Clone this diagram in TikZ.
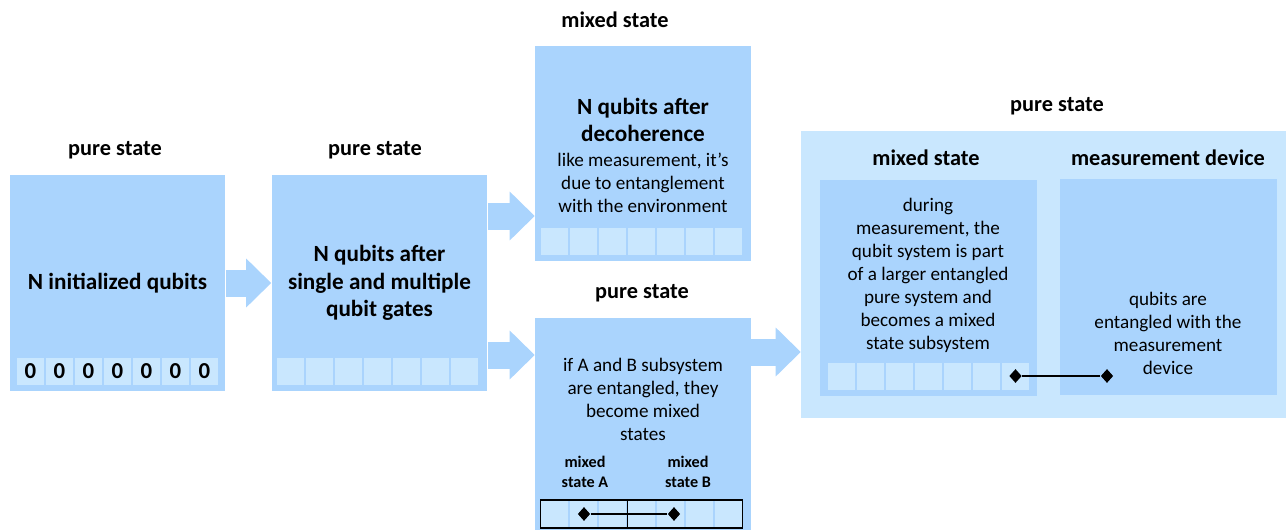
\documentclass[tikz,border=0pt]{standalone}
\usepackage{fontspec}
\setmainfont{Carlito}
\usetikzlibrary{arrows.meta,shapes.geometric}
\definecolor{boxblue}{HTML}{AAD4FD}
\definecolor{cellblue}{HTML}{C9E7FE}

\tikzset{
  qbox/.style={fill=boxblue, minimum width=4.32cm, minimum height=4.32cm, inner sep=0pt,
    font=\fontsize{13.2}{15.5}\selectfont\bfseries, align=center},
  qcell/.style={fill=cellblue, minimum width=0.54cm, minimum height=0.54cm, inner sep=0pt,
    font=\fontsize{13}{14}\selectfont\bfseries},
  title/.style={font=\fontsize{12.7}{14}\selectfont\bfseries},
  body/.style={font=\fontsize{10.9}{13.1}\selectfont, align=center},
  small/.style={font=\fontsize{9.2}{11.4}\selectfont\bfseries, align=center},
  flow/.style={draw=boxblue, line width=0.54cm,
    -{Triangle[length=0.5cm,width=0.98cm,line width=0pt]}},
  tip/.style={diamond, fill=black, inner sep=0pt, minimum width=0.25cm, minimum height=0.28cm},
  link/.style={line width=0.9pt}
}

\begin{document}
\begin{tikzpicture}[x=0.02cm,y=-0.02cm]
  \useasboundingbox (0,0) rectangle (1286,531);

  % initial qubits
  \node[title] (t1) at (115,150) {pure state};
  \node[qbox] (init) at (117.5,283) {N initialized qubits};
  \foreach \i in {0,...,6}
    \node[qcell] (z\i) at (30.5+29*\i,371.5) {0};

  % after gates
  \node[title] (t2) at (375,150) {pure state};
  \node[qbox] (gates) at (379.5,283) {N qubits after\\single and multiple\\qubit gates};
  \foreach \i in {0,...,6}
    \node[qcell] (q\i) at (290.5+29*\i,371.5) {};

  % decoherence
  \node[title] (t3) at (615,20) {mixed state};
  \node[qbox] (deco) at (643,153.5) {};
  \node[font=\fontsize{13.2}{15.5}\selectfont\bfseries, align=center] (decohead) at (643,120)
    {N qubits after\\decoherence};
  \node[body] (decotxt) at (643,183)
    {like measurement, it’s\\due to entanglement\\with the environment};
  \foreach \i in {0,...,6}
    \node[qcell] (d\i) at (554.5+29*\i,241.5) {};

  % entangled subsystems
  \node[title] (t4) at (642,293) {pure state};
  \node[qbox, minimum height=4.24cm] (ent) at (643,424) {};
  \node[body] (enttxt) at (643,399)
    {if A and B subsystem\\are entangled, they\\become mixed\\states};
  \node[small] (subA) at (585,472) {mixed\\state A};
  \node[small] (subB) at (688,472) {mixed\\state B};
  \foreach \i in {0,...,6}
    \node[qcell] (g\i) at (554.5+29*\i,514) {};
  \draw[link] (g0.north west) rectangle (g6.south east);
  \draw[link] ([xshift=0.02cm]g2.north east) -- ([xshift=0.02cm]g2.south east);
  \node[tip] (dA) at (584,514) {};
  \node[tip] (dB) at (674,514) {};
  \draw[link] (dA) -- (dB);

  % measurement
  \node[title] (t5) at (1057,106) {pure state};
  \node[fill=cellblue, minimum width=9.7cm, minimum height=5.74cm] (meas) at (1043.5,274.5) {};
  \node[title] (t6) at (926,158) {mixed state};
  \node[title] (t7) at (1168,158) {measurement device};
  \node[qbox, minimum width=4.34cm] (sys) at (928.5,288) {};
  \node[qbox, minimum width=4.34cm] (dev) at (1168.5,287) {};
  \node[body] (systxt) at (928,275.5)
    {during\\measurement, the\\qubit system is part\\of a larger entangled\\pure system and\\becomes a mixed\\state subsystem};
  \node[body] (devtxt) at (1168,333.5)
    {qubits are\\entangled with the\\measurement\\device};
  \foreach \i in {0,...,6}
    \node[qcell] (r\i) at (841.5+29*\i,376) {};
  \node[tip] (dS) at (r6) {};
  \node[tip] (dM) at (1107,376) {};
  \draw[link] (dS) -- (dM);

  % arrows
  \draw[flow] (init.east) -- (gates.west);
  \draw[flow] (gates.east |- 0,216) -- (deco.west |- 0,216);
  \draw[flow] (gates.east |- 0,355) -- (ent.west |- 0,355);
  \draw[flow] (ent.east |- 0,352) -- (meas.west |- 0,352);
\end{tikzpicture}
\end{document}
